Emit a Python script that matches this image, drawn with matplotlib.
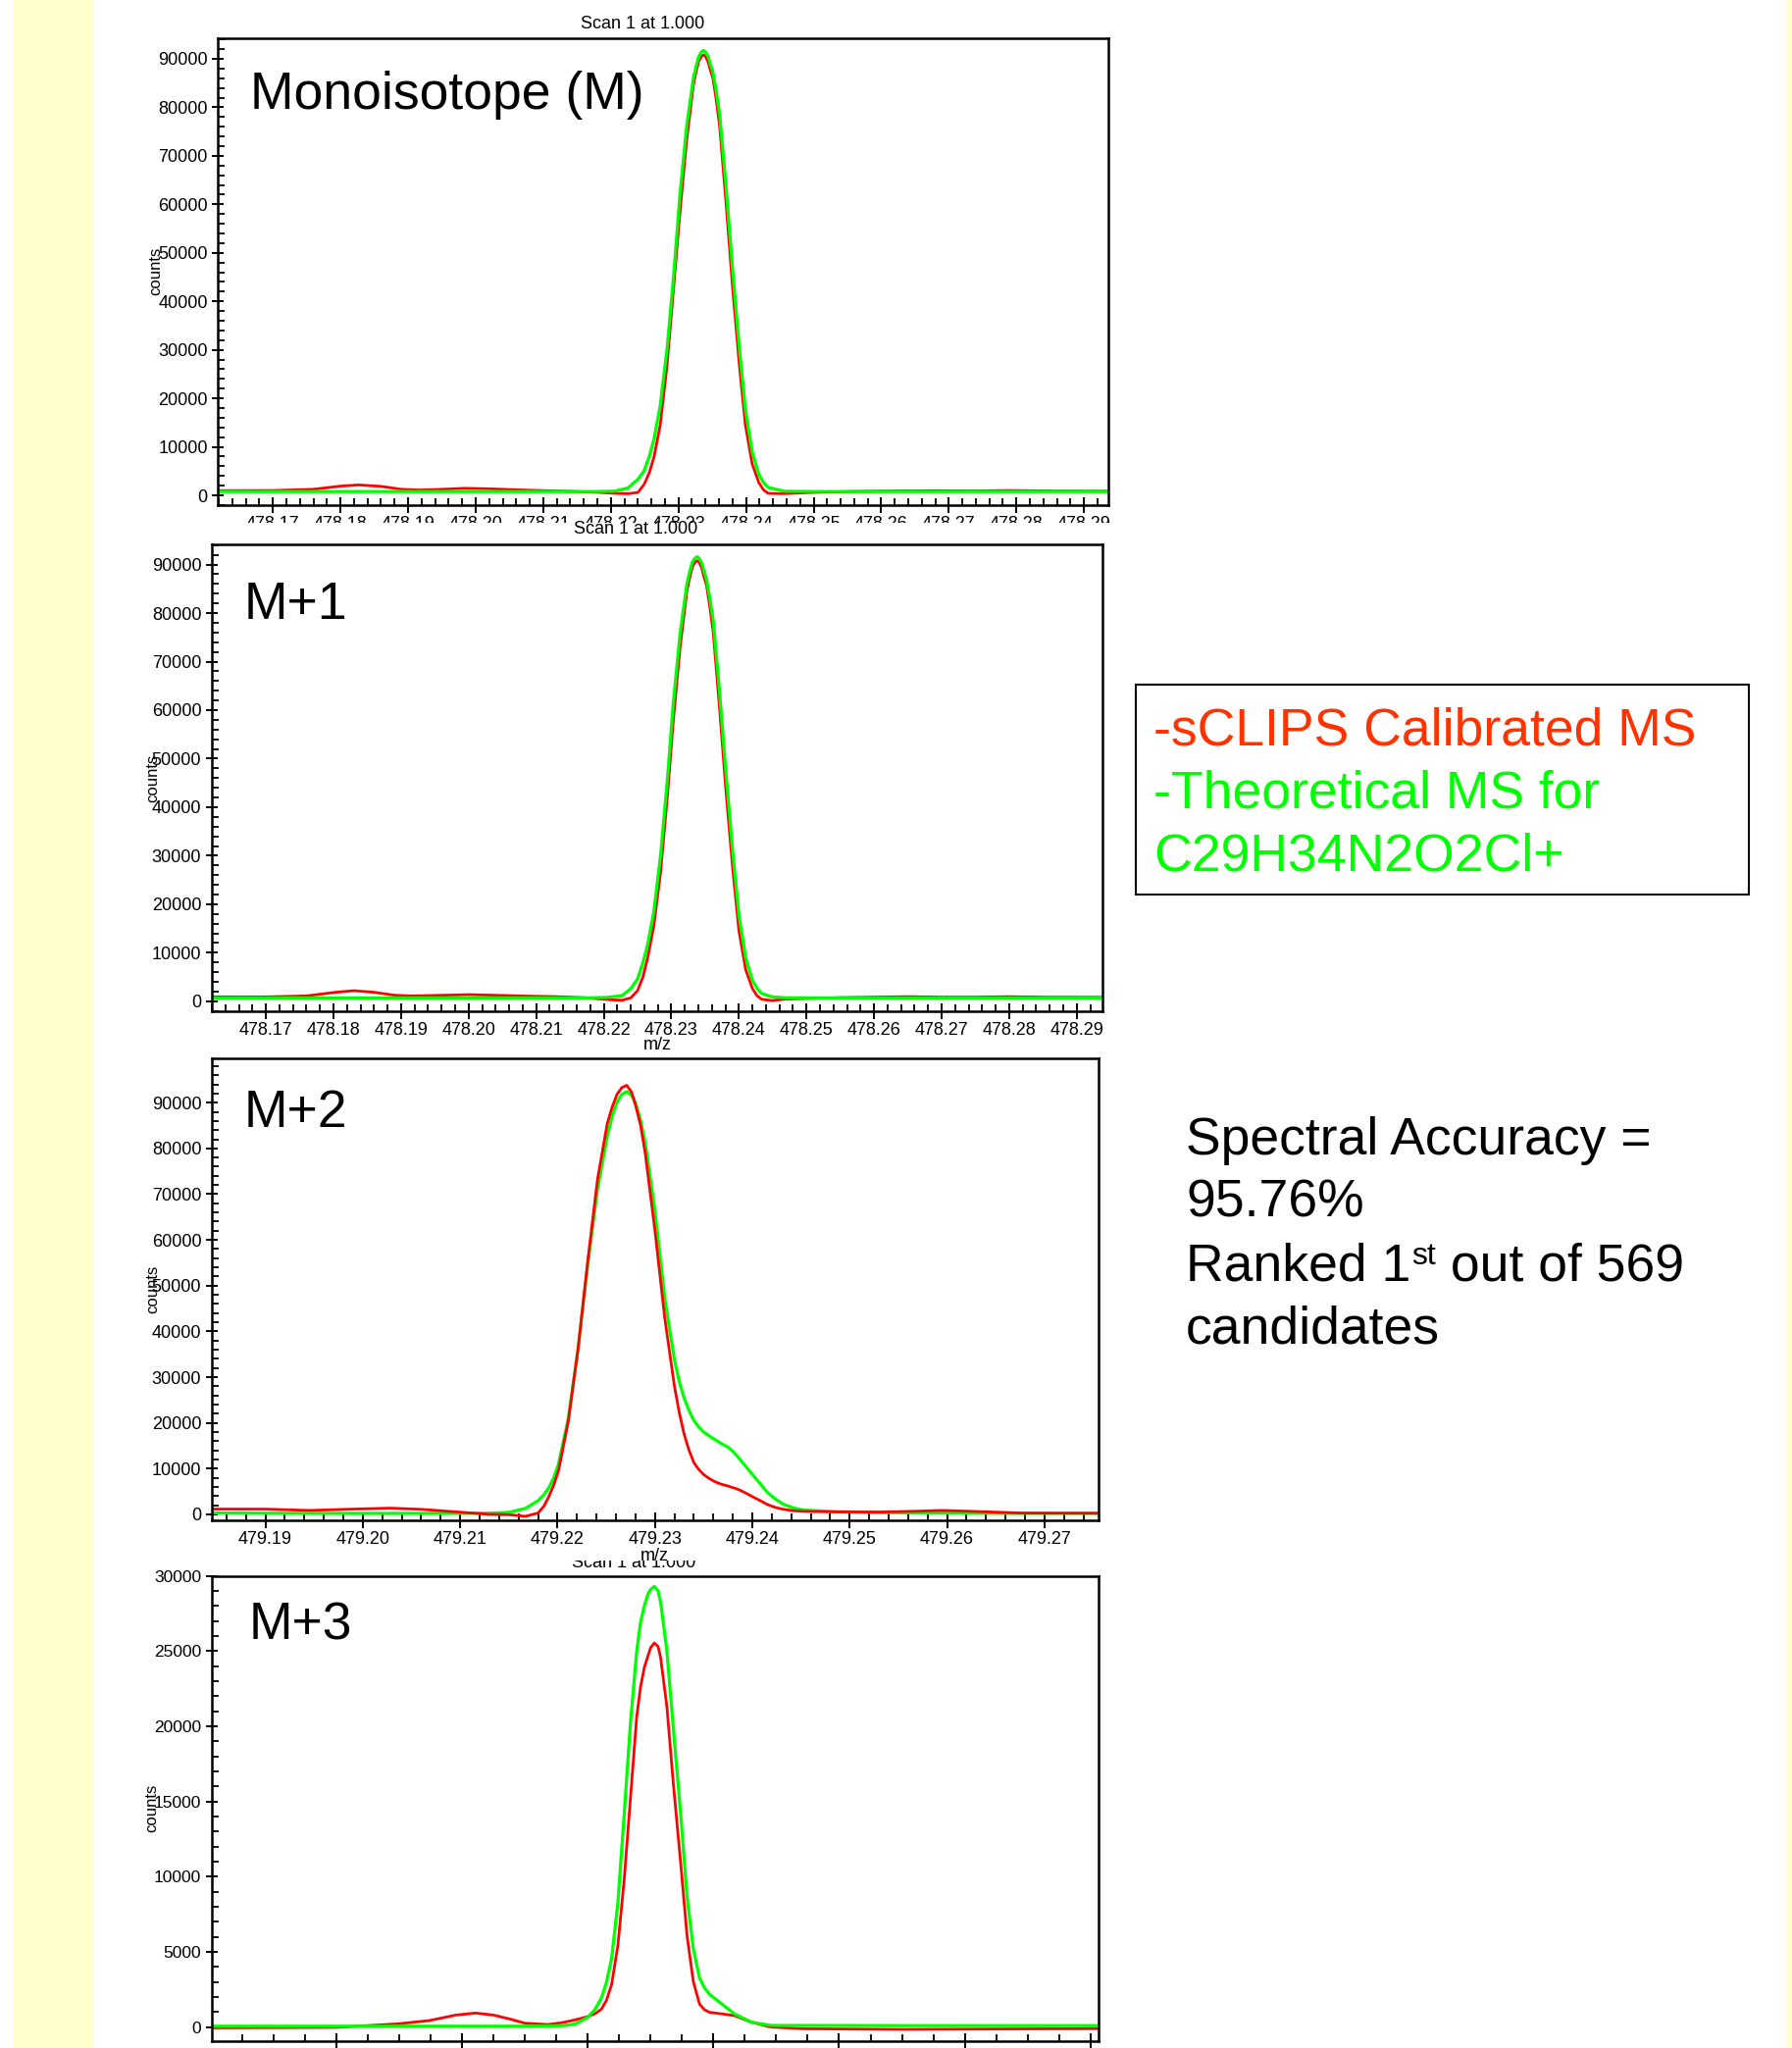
import matplotlib
matplotlib.use("Agg")
import matplotlib.pyplot as plt
from matplotlib.patches import Rectangle
from matplotlib.ticker import FixedLocator, MultipleLocator, FormatStrFormatter

plt.rcParams['font.family'] = ['Liberation Sans', 'DejaVu Sans']

RED = '#ff0000'
GREEN = '#00ff00'
YELLOW = '#ffffcc'

# === data (m/z, counts) ===
# Monoisotope (M)
mono_mz = [478.1619, 478.1700, 478.1760, 478.1800, 478.1827, 478.1860, 478.1890, 478.1918,
           478.1950, 478.1983, 478.2020, 478.2060, 478.2100, 478.2140, 478.2180, 478.2205,
           478.2225, 478.2240, 478.2249, 478.2257, 478.2264, 478.2273, 478.2283, 478.2293,
           478.2302, 478.2312, 478.2322, 478.2326, 478.2330, 478.2334, 478.2337, 478.2340,
           478.2344, 478.2347, 478.2351, 478.2356, 478.2361, 478.2370, 478.2380, 478.2390,
           478.2399, 478.2409, 478.2419, 478.2426, 478.2433, 478.2457, 478.2500, 478.2560,
           478.2620, 478.2680, 478.2740, 478.2790, 478.2850, 478.2936]
mono_calib = [970, 1000, 1250, 1900, 2150, 1850, 1250, 1100,
              1250, 1450, 1350, 1150, 970, 820, 620, 420,
              330, 600, 2200, 4700, 8000, 14500, 26600, 43000,
              58000, 73000, 84500, 87300, 89500, 90500, 90800, 90500,
              89300, 87800, 86000, 81500, 76000, 61000, 43000, 27000,
              14500, 6500, 2600, 1100, 400, 350, 600, 800,
              900, 950, 900, 1000, 900, 850]
mono_theo = [780, 780, 780, 780, 780, 780, 780, 780,
             780, 780, 780, 780, 780, 780, 790, 850,
             1500, 3300, 5000, 8100, 11700, 18500, 30000, 45500,
             61700, 75900, 86000, 88400, 90500, 91400, 91700, 91400,
             90500, 89000, 87300, 83300, 78500, 64400, 46800, 30600,
             17800, 9000, 4300, 2600, 1600, 850, 790, 780,
             780, 780, 780, 780, 780, 780]

# M+1
m1_mz = [478.1620, 478.1700, 478.1760, 478.1800, 478.1830, 478.1860, 478.1890, 478.1913,
         478.1950, 478.2001, 478.2050, 478.2090, 478.2126, 478.2170, 478.2205, 478.2227,
         478.2240, 478.2250, 478.2258, 478.2265, 478.2274, 478.2284, 478.2294, 478.2303,
         478.2313, 478.2323, 478.2327, 478.2331, 478.2335, 478.2338, 478.2341, 478.2345,
         478.2348, 478.2352, 478.2357, 478.2362, 478.2371, 478.2381, 478.2391, 478.2400,
         478.2410, 478.2420, 478.2427, 478.2434, 478.2449, 478.2470, 478.2550, 478.2600,
         478.2650, 478.2700, 478.2750, 478.2800, 478.2850, 478.2938]
m1_calib = [890, 900, 1100, 1800, 2180, 1850, 1250, 1090,
            1200, 1365, 1200, 1050, 960, 750, 350, 200,
            700, 2200, 5000, 9000, 15500, 26500, 42000, 58000,
            73000, 84500, 87200, 89500, 90500, 90800, 90500, 89300,
            87600, 85800, 81200, 76000, 61000, 43000, 27000, 14500,
            6500, 2600, 1100, 400, 140, 450, 750, 850,
            950, 850, 850, 950, 850, 820]
m1_theo = [680, 680, 680, 680, 680, 680, 680, 680,
           680, 680, 680, 680, 680, 680, 800, 1160,
           2600, 4600, 8000, 11700, 18500, 30000, 45500, 61700,
           75900, 86000, 88500, 90500, 91300, 91600, 91300, 90300,
           88800, 87000, 83000, 78500, 64400, 46800, 30600, 17800,
           9000, 4300, 2600, 1600, 900, 720, 680, 680,
           680, 680, 680, 680, 680, 680]

# M+2
m2_mz = [479.1845, 479.1900, 479.1945, 479.1990, 479.2028, 479.2060, 479.2099, 479.2130,
         479.2150, 479.2167, 479.2180, 479.2186, 479.2191, 479.2196, 479.2201, 479.2211,
         479.2221, 479.2231, 479.2241, 479.2251, 479.2256, 479.2261, 479.2266, 479.2271,
         479.2276, 479.2280, 479.2285, 479.2290, 479.2300, 479.2310, 479.2320, 479.2325,
         479.2330, 479.2335, 479.2340, 479.2345, 479.2350, 479.2356, 479.2362, 479.2368,
         479.2375, 479.2380, 479.2385, 479.2392, 479.2399, 479.2408, 479.2416, 479.2424,
         479.2432, 479.2442, 479.2453, 479.2486, 479.2530, 479.2570, 479.2594, 479.2620,
         479.2677, 479.2755]
m2_calib = [1150, 1150, 860, 1150, 1360, 1100, 500, 0,
            -70, -430, 290, 1800, 3860, 6400, 9600, 20300,
            36100, 55400, 73200, 85400, 89000, 91800, 93300, 93800,
            92300, 89500, 85300, 79000, 62000, 43000, 28000, 22200,
            17500, 14000, 11300, 9800, 8700, 7800, 7100, 6600,
            6200, 5850, 5500, 4800, 4000, 3000, 2100, 1500,
            1100, 800, 650, 550, 500, 700, 860, 700,
            290, 250]
m2_theo = [300, 250, 230, 220, 220, 220, 220, 250,
           430, 1300, 3000, 4300, 5800, 8000, 11000, 21000,
           36100, 54700, 71100, 82600, 87000, 90100, 91800, 92400,
           91600, 90000, 86300, 81300, 66300, 47300, 33800, 29000,
           25400, 22700, 20500, 19100, 18000, 17100, 16300, 15500,
           14700, 13800, 12600, 10800, 9000, 6700, 4700, 3300,
           2200, 1400, 930, 570, 400, 300, 300, 250,
           220, 220]

# M+3
m3_mz = [480.1901, 480.2000, 480.2049, 480.2074, 480.2095, 480.2111, 480.2125, 480.2138,
         480.2150, 480.2168, 480.2180, 480.2190, 480.2200, 480.2206, 480.2211, 480.2215,
         480.2219, 480.2224, 480.2229, 480.2234, 480.2239, 480.2242, 480.2245, 480.2248,
         480.2250, 480.2253, 480.2256, 480.2258, 480.2263, 480.2268, 480.2274, 480.2279,
         480.2284, 480.2289, 480.2293, 480.2297, 480.2307, 480.2317, 480.2330, 480.2346,
         480.2372, 480.2450, 480.2606]
m3_calib = [-50, -20, 217, 435, 800, 935, 800, 540,
            260, 170, 300, 480, 700, 900, 1200, 1800,
            2830, 5430, 9780, 15220, 20650, 22600, 23910, 24700,
            25220, 25540, 25300, 24560, 21300, 16300, 10870, 6090,
            3040, 1520, 1150, 980, 880, 760, 330, 0,
            -110, -150, -100]
m3_theo = [60, 60, 60, 60, 60, 60, 60, 60,
           60, 70, 100, 200, 650, 1200, 1960, 3000,
           4570, 8260, 14130, 20220, 25000, 26900, 28000, 28800,
           29100, 29300, 29000, 28260, 25000, 20000, 14130, 8700,
           5220, 3260, 2600, 2170, 1520, 870, 330, 110,
           110, 100, 100]

m0_xticks = [478.17, 478.18, 478.19, 478.20, 478.21, 478.22, 478.23,
             478.24, 478.25, 478.26, 478.27, 478.28, 478.29]
m2_xticks = [479.19, 479.20, 479.21, 479.22, 479.23, 479.24, 479.25, 479.26, 479.27]
m3_xticks = [480.20, 480.21, 480.22, 480.23, 480.24, 480.25, 480.26]

panel_names = ['Monoisotope (M)', 'M+1', 'M+2', 'M+3']
legend_lines = ['-sCLIPS Calibrated MS', '-Theoretical MS for', 'C29H34N2O2Cl+']
accuracy_lines = ['Spectral Accuracy =', '95.76%']
rank_text = ['Ranked 1', 'st', ' out of 569']
last_line = 'candidates'
scan_title = 'Scan 1 at 1.000'

# === figure in pixel layout ===
W, H = 1827, 2088
fig = plt.figure(figsize=(W / 100, H / 100), dpi=100)
BIG = 38.5


def fx(px):
    return px / W


def fy(py):
    return 1 - py / H


def panel(l, t, r, b, z):
    return fig.add_axes([fx(l), fy(b), (r - l) / W, (b - t) / H], zorder=z)


def style(ax, xlim, ylim, xticks, xminor, ymajor, yminor, size=13, xlabels=True):
    ax.set_xlim(xlim)
    ax.set_ylim(ylim)
    ax.xaxis.set_major_locator(FixedLocator(xticks))
    ax.xaxis.set_minor_locator(MultipleLocator(xminor))
    ax.xaxis.set_major_formatter(FormatStrFormatter('%.2f'))
    ax.yaxis.set_major_locator(MultipleLocator(ymajor))
    ax.yaxis.set_minor_locator(MultipleLocator(yminor))
    ax.yaxis.set_major_formatter(FormatStrFormatter('%d'))
    ax.tick_params(axis='x', which='major', direction='inout', length=12, width=1.4,
                   pad=2.2, labelsize=size, labelbottom=xlabels)
    ax.tick_params(axis='y', which='major', direction='inout', length=9, width=1.4,
                   pad=3.2, labelsize=size)
    ax.tick_params(which='minor', direction='in', length=5, width=1.3)
    ax.tick_params(which='both', top=False, right=False)
    for s in ax.spines.values():
        s.set_linewidth(1.8)
    ax.set_ylabel('counts', fontsize=12)


# yellow side strips
fig.add_artist(Rectangle((fx(13), 0), (96 - 13) / W, 1, transform=fig.transFigure,
                         facecolor=YELLOW, edgecolor='none', zorder=-1))
fig.add_artist(Rectangle((fx(1822), 0), 5 / W, 1, transform=fig.transFigure,
                         facecolor=YELLOW, edgecolor='none', zorder=-1))

# panel 1
ax1 = panel(222.4, 38.6, 1130, 515, 0)
ax1.plot(mono_mz, mono_calib, color=RED, lw=2.0)
ax1.plot(mono_mz, mono_theo, color=GREEN, lw=2.3)
style(ax1, (478.1619, 478.2936), (-2020, 94320), m0_xticks, 0.002, 10000, 2000)
ax1.yaxis.set_label_coords(-0.0616, 0.5)
fig.text(fx(655), fy(29.3), scan_title, fontsize=13, ha='center', va='baseline')

# panel 2
ax2 = panel(216, 555.3, 1124, 1030.7, 2)
ax2.plot(m1_mz, m1_calib, color=RED, lw=2.0)
ax2.plot(m1_mz, m1_theo, color=GREEN, lw=2.3)
style(ax2, (478.1620, 478.2938), (-2000, 94100), m0_xticks, 0.002, 10000, 2000)
ax2.yaxis.set_label_coords(-0.058, 0.5)
ax2.set_xlabel('m/z', fontsize=13)
ax2.xaxis.set_label_coords(0.5, -0.0553)
# panel 2 image sits over the bottom of panel 1's tick labels
fig.add_artist(Rectangle((fx(150), fy(553)), 1000 / W, (553 - 533) / H,
                         transform=fig.transFigure, facecolor='white',
                         edgecolor='none', zorder=1))
fig.text(fx(648.5), fy(544), scan_title, fontsize=13, ha='center', va='baseline', zorder=3)

# panel 3
ax3 = panel(216, 1078.5, 1119.5, 1550, 2)
ax3.plot(m2_mz, m2_theo, color=GREEN, lw=2.3)
ax3.plot(m2_mz, m2_calib, color=RED, lw=2.0)
style(ax3, (479.1845, 479.2755), (-1300, 99800), m2_xticks, 0.002, 10000, 2000)
ax3.yaxis.set_label_coords(-0.058, 0.5)
ax3.set_xlabel('m/z', fontsize=13)
ax3.xaxis.set_label_coords(0.5, -0.0600)

# panel 4 (its title is half hidden under panel 3)
ax4 = panel(216, 1606.7, 1119.5, 2080.7, 0)
ax4.plot(m3_mz, m3_calib, color=RED, lw=2.0)
ax4.plot(m3_mz, m3_theo, color=GREEN, lw=2.3)
style(ax4, (480.1901, 480.2606), (-913, 30000), m3_xticks, 0.0025, 5000, 1000,
      size=12.5, xlabels=False)
ax4.yaxis.set_label_coords(-0.059, 0.5)
fig.text(fx(646), fy(1598), scan_title, fontsize=13, ha='center', va='baseline', zorder=0.5)
fig.add_artist(Rectangle((fx(150), fy(1591)), 1000 / W, (1591 - 1556) / H,
                         transform=fig.transFigure, facecolor='white',
                         edgecolor='none', zorder=1))

# big panel names
for (x, y), name in zip([(255, 111), (249, 631), (249, 1149), (254, 1671.7)], panel_names):
    fig.text(fx(x), fy(y), name, fontsize=BIG, ha='left', va='baseline', zorder=4)

# legend box
fig.add_artist(Rectangle((fx(1157.5), fy(911.7)), (1783 - 1157.5) / W, (911.7 - 698.3) / H,
                         transform=fig.transFigure, facecolor='white',
                         edgecolor='black', lw=1.5, zorder=2))
for y, txt, c in zip([760, 824, 887.3], legend_lines, ['#ff3300', GREEN, GREEN]):
    fig.text(fx(1176), fy(y), txt, fontsize=BIG, color=c, ha='left', va='baseline', zorder=4)

# accuracy text
for y, txt in zip([1176.7, 1240.7], accuracy_lines):
    fig.text(fx(1209), fy(y), txt, fontsize=BIG, ha='left', va='baseline')
renderer = fig.canvas.get_renderer()
t1 = fig.text(fx(1209), fy(1305), rank_text[0], fontsize=BIG, ha='left', va='baseline')
bb1 = t1.get_window_extent(renderer)
t2 = fig.text((bb1.x1 + 1) / W, fy(1289), rank_text[1], fontsize=23, ha='left', va='baseline')
bb2 = t2.get_window_extent(renderer)
fig.text(bb2.x1 / W, fy(1305), rank_text[2], fontsize=BIG, ha='left', va='baseline')
fig.text(fx(1209), fy(1369.3), last_line, fontsize=BIG, ha='left', va='baseline')

fig.savefig('out.png', dpi=100)
